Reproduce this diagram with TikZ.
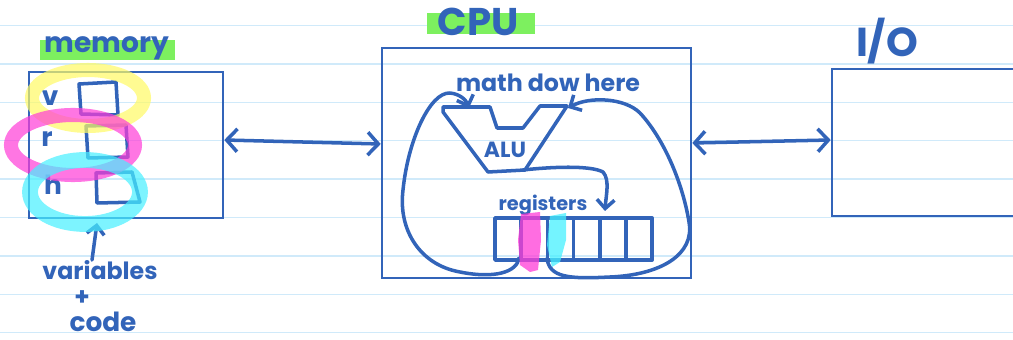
\documentclass[tikz,border=0pt]{standalone}
\usepackage{fontspec}
\setmainfont{Poppins}
\usetikzlibrary{arrows.meta}

\definecolor{ink}{RGB}{50,100,185}
\definecolor{paper}{RGB}{208,234,250}
\definecolor{hlgreen}{RGB}{125,240,95}
\definecolor{hlyellow}{RGB}{255,250,100}
\definecolor{hlpink}{RGB}{255,60,215}
\definecolor{hlcyan}{RGB}{70,240,255}

\tikzset{
  pen/.style={ink,line width=2pt,line cap=round,line join=round},
  box/.style={draw=ink,line width=1.5pt,rectangle,inner sep=0pt},
  hand/.style={text=ink,inner sep=0pt,font=\bfseries},
  barb/.style={-{Straight Barb[length=5pt,width=10pt]}},
  twoway/.style={pen,{Straight Barb[length=6pt,width=13pt]}-{Straight Barb[length=6pt,width=13pt]}},
  marker/.style={line width=#1,opacity=0.7,line cap=round}
}

\begin{document}
\begin{tikzpicture}[x=0.02cm,y=-0.02cm]
   \useasboundingbox (0,0) rectangle (1013,340);
   % ruled paper
   \foreach \k in {0,...,8}
     \draw[paper,line width=0.9pt] (0,25.5+38.4*\k) -- (1013,25.5+38.4*\k);

   % label highlights
   \fill[hlgreen] (40,40) rectangle (175,60);
   \fill[hlgreen] (427,13) rectangle (535,34);

   % the three boxes
   \node[box,minimum width=3.88cm,minimum height=2.92cm] (mem) at (126,145) {};
   \node[box,minimum width=6.18cm,minimum height=4.6cm] (cpu) at (536.5,163) {};
   \node[box,minimum width=4.2cm,minimum height=2.94cm] (io) at (937,142.5) {};

   \node[hand,font=\bfseries\fontsize{16}{16}\selectfont] (memlbl) at (107,48) {memory};
   \node[hand,font=\bfseries\fontsize{22}{22}\selectfont] (cpulbl) at (478,22) {CPU};
   \node[hand,font=\bfseries\fontsize{23}{23}\selectfont] (iolbl) at (887,41) {I/O};

   \draw[twoway] (mem.east |- 0,140) -- (cpu.west |- 0,144);
   \draw[twoway] (cpu.east |- 0,143) -- (io.west |- 0,140);

   % memory cells
   \node[hand,font=\bfseries\fontsize{15}{15}\selectfont] (vlbl) at (50,98) {v};
   \node[hand,font=\bfseries\fontsize{15}{15}\selectfont] (rlbl) at (47,139) {r};
   \node[hand,font=\bfseries\fontsize{15}{15}\selectfont] (hlbl) at (53,185) {h};
   \draw[pen] (79,84) -- (116,82) -- (118,115) -- (81,114) -- cycle;
   \draw[pen] (86,126) -- (126,125) -- (128,157) -- (88,158) -- cycle;
   \draw[pen] (96,173) -- (132,172) -- (140,202) -- (97,203) -- cycle;

   \node[hand,font=\bfseries\fontsize{13.5}{13.5}\selectfont] (var) at (100,270) {variables};
   \node[hand,font=\bfseries\fontsize{14}{14}\selectfont] (plus) at (82,298) {+};
   \node[hand,font=\bfseries\fontsize{15}{15}\selectfont] (code) at (103,322) {code};
   \draw[pen,barb] (var.north -| 92,0) -- (97,223);

   % CPU inside
   \node[hand,font=\bfseries\fontsize{13.5}{13.5}\selectfont] (mathlbl) at (548,83) {math dow here};
   \draw[pen] (443,107) -- (490,107) -- (497,128) -- (523,128) -- (540,106)
     -- (567,106) -- (525,170) -- (488,172) -- (443,112) -- cycle;
   \node[hand,font=\bfseries\fontsize{12.5}{12.5}\selectfont] (alulbl) at (505,150) {ALU};

   \node[hand,font=\bfseries\fontsize{11}{11}\selectfont] (reglbl) at (543,205) {registers};
   \foreach \i in {0,...,5}
     \draw[pen] (495+26.2*\i,218) rectangle ++(26.2,42);

   % data paths
   \draw[pen,barb] (519,258) .. controls (517,272) and (495,279) .. (460,272)
     .. controls (420,265) and (398,230) .. (403,190)
     .. controls (408,140) and (430,92) .. (450,93)
     .. controls (460,94) and (466,100) .. (469,108);
   \draw[pen,barb] (547,258) .. controls (549,278) and (570,279) .. (610,277)
     .. controls (660,275) and (695,255) .. (689,222)
     .. controls (683,185) and (665,140) .. (640,113)
     .. controls (625,98) and (590,96) .. (568,108);
   \draw[pen,barb] (523,170) .. controls (550,167) and (590,165) .. (603,172)
     .. controls (610,180) and (606,195) .. (605,211);

   % marker strokes on top
   \draw[hlyellow,marker=8pt] (88,98) ellipse [x radius=56, y radius=28];
   \draw[hlpink,marker=8pt] (73,145) ellipse [x radius=62, y radius=30];
   \draw[hlcyan,marker=9pt] (85,192) ellipse [x radius=55, y radius=32];
   \fill[hlpink,opacity=0.75] (521,214) -- (540,212) -- (541,240) -- (538,270)
     -- (530,272) -- (520,265) -- (518,240) -- cycle;
   \fill[hlcyan,opacity=0.75] (550,216) -- (566,213) -- (566,240) -- (560,262)
     -- (552,267) -- (547,245) -- cycle;
\end{tikzpicture}
\end{document}
